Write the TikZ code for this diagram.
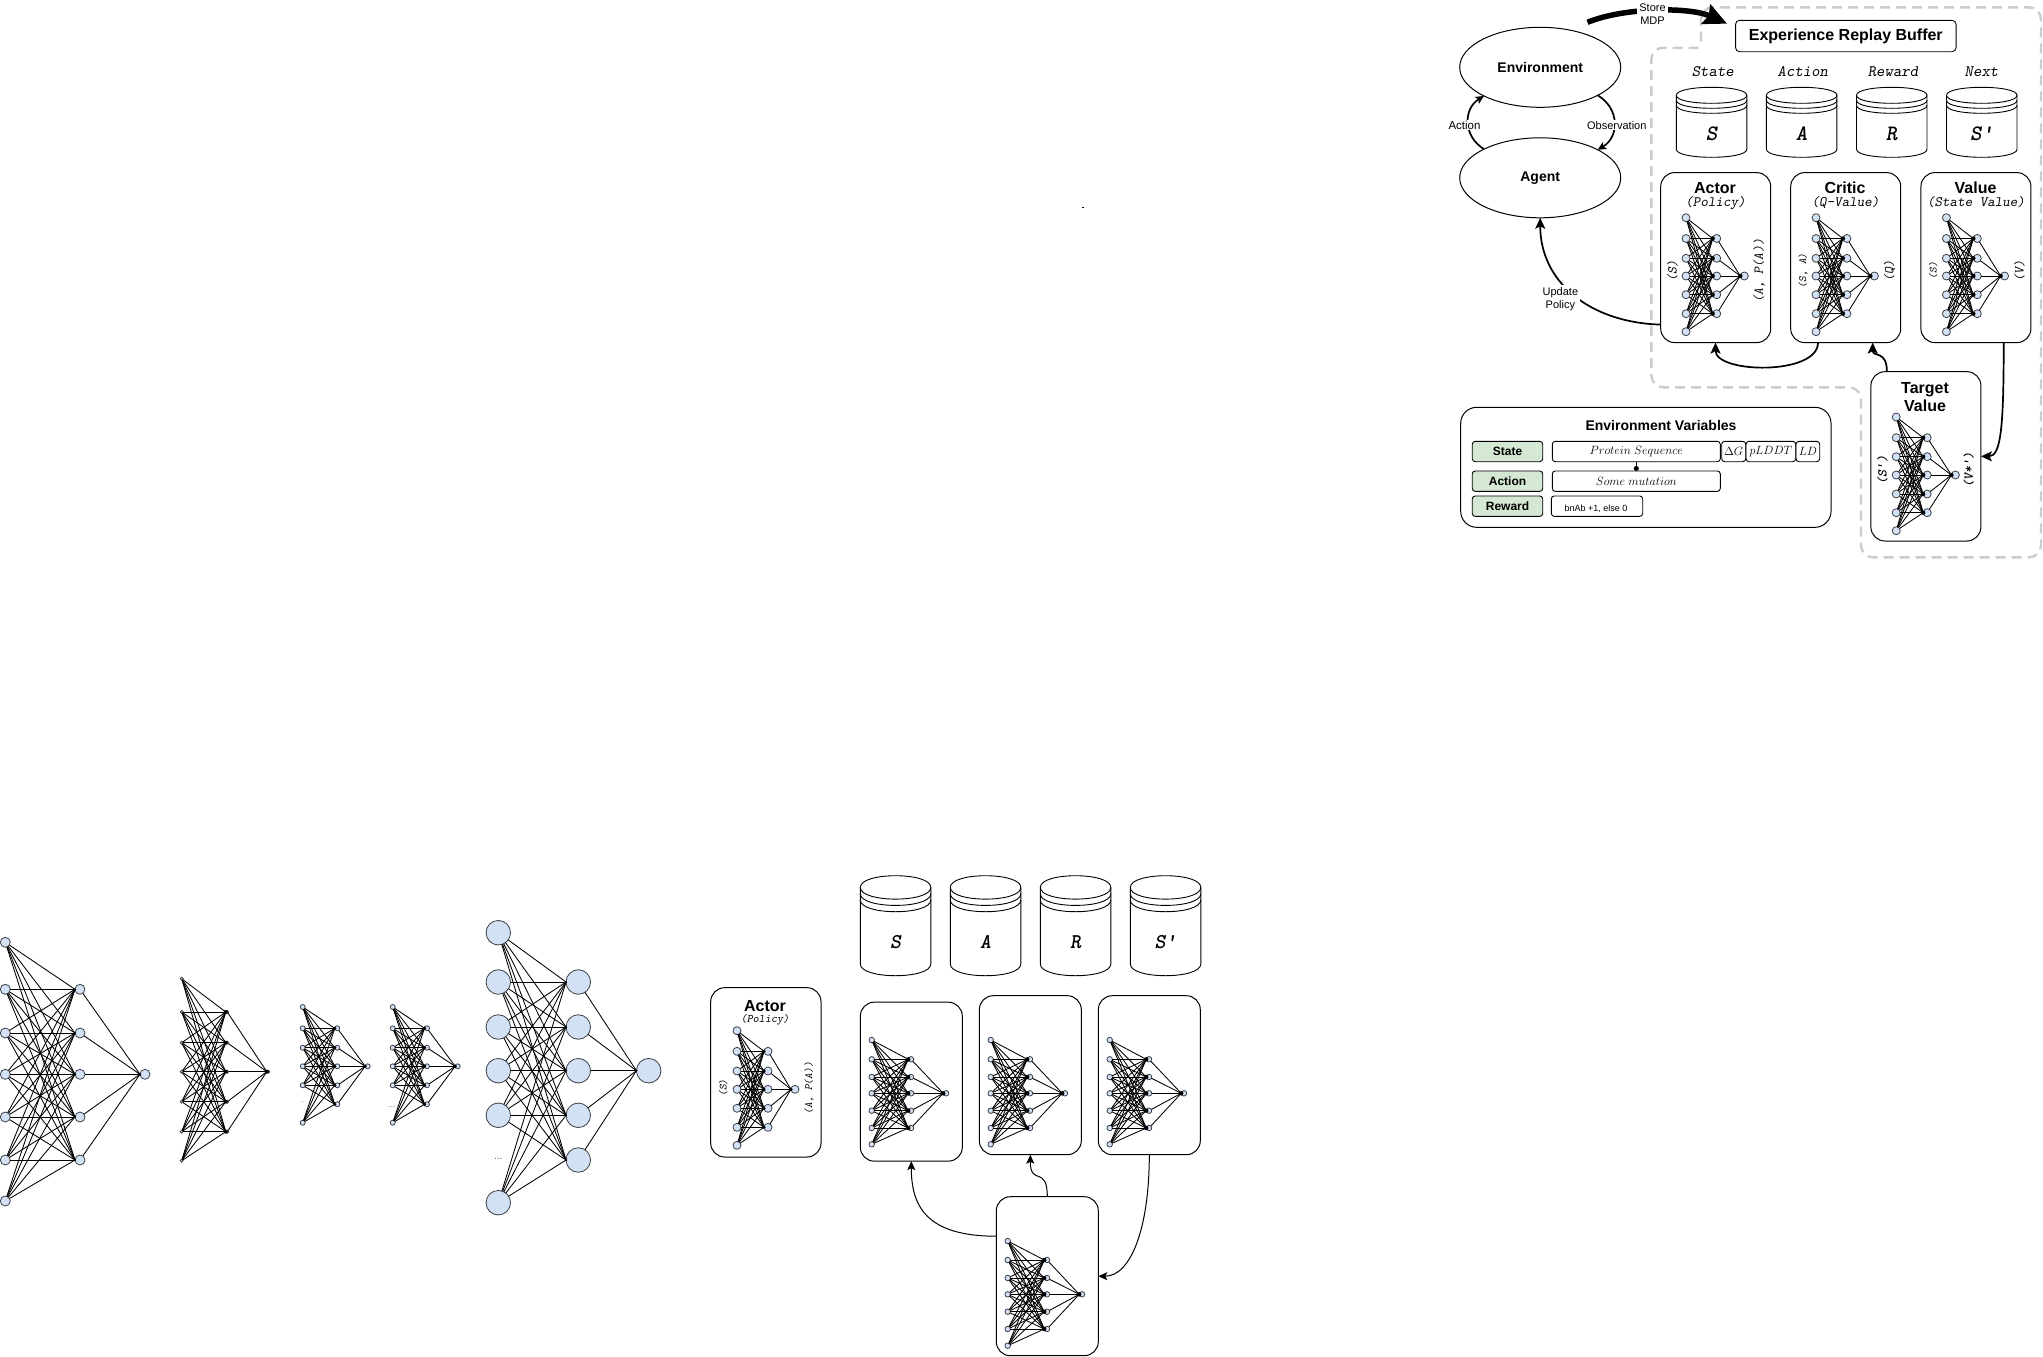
\documentclass[tikz,border=0pt]{standalone}
\usepackage{fontspec}
\setmainfont{Liberation Sans}
\newfontfamily\cour{lmmonoslant10-regular.otf}
\newfontfamily\courb{lmmonolt10-boldoblique.otf}
\usetikzlibrary{arrows.meta,shapes.geometric,calc}
\newcommand{\fsz}[1]{\fontsize{#1}{#1}\selectfont}
\definecolor{nnfill}{HTML}{D3E1F4}
\definecolor{nnedge}{HTML}{3C4048}
\definecolor{greenfill}{HTML}{D5E8D4}
\definecolor{dashgray}{HTML}{CCCCCC}
\tikzset{
  nnode/.style={circle,draw=nnedge,fill=nnfill,line width=0.8pt,inner sep=0pt,outer sep=0pt},
  nnline/.style={black,line width=0.85pt},
  rbox/.style={draw=black,fill=none,rounded corners=14pt,line width=1pt,inner sep=0pt,outer sep=0pt},
  smallbox/.style={draw=black,rounded corners=3pt,line width=0.9pt,inner sep=0pt,outer sep=0pt},
  greenbox/.style={smallbox,fill=greenfill,minimum width=70.5pt,minimum height=20.4pt,font=\fsz{12}\bfseries},
  cylline/.style={black,line width=0.9pt},
  flow/.style={black,line width=1.7pt,-{Stealth[length=11pt,width=10pt,inset=2.5pt]}},
  flowsmall/.style={black,line width=1.7pt,-{Stealth[length=8.5pt,width=8pt,inset=2pt]}},
  flowthin/.style={black,line width=1pt,-{Stealth[length=9pt,width=8pt,inset=2pt]}},
  boxtitle/.style={font=\fsz{16}\bfseries,inner sep=0pt},
  boxsub/.style={font=\fsz{14.3}\cour,inner sep=0pt},
  rotlabel/.style={rotate=90,inner sep=0pt,font=\fsz{13.5}\cour},
  rotsmall/.style={rotate=90,inner sep=0pt,font=\fsz{11}\cour},
  rotbold/.style={rotate=90,inner sep=0pt,font=\fsz{13.5}\courb},
  collabel/.style={font=\fsz{16}\cour,inner sep=0pt},
  whitelabel/.style={fill=white,inner sep=1.5pt,align=center,font=\fontsize{11}{13}\selectfont},
  ellipsebox/.style={ellipse,draw=black,line width=1pt,minimum width=161pt,minimum height=80pt,inner sep=0pt,outer sep=0pt,font=\fsz{14}\bfseries},
  dots/.style={inner sep=0pt,text=black!65}
}
% name, x input, x hidden, x output, input ys, hidden ys, y output, diameter, dot radius
\newcommand{\nnet}[9]{%
  \foreach \yy [count=\k] in {#5} {\node[nnode,minimum size=#8pt] (#1i\k) at (#2,\yy) {};}
  \foreach \yy [count=\k] in {#6} {\node[nnode,minimum size=#8pt] (#1h\k) at (#3,\yy) {};}
  \node[nnode,minimum size=#8pt] (#1o) at (#4,#7) {};
  \foreach \yy [count=\k] in {#5} {\foreach \zz [count=\m] in {#6} {\draw[nnline] (#1i\k) -- (#1h\m.west);}}
  \foreach \zz [count=\m] in {#6} {\draw[nnline] (#1h\m) -- (#1o.west);
    \fill[black] (#1h\m.west) circle[radius=#9pt];}
  \fill[black] (#1o.west) circle[radius=#9pt];
}
% name, x left, y top, height, ry, step, letter, font size
\newcommand{\cyl}[8]{%
  \begin{scope}[shift={(#2,#3)}]
    \draw[cylline] (0,#5) .. controls (0,-#5/3) and (70.5,-#5/3) .. (70.5,#5)
       -- (70.5,#4-#5) .. controls (70.5,#4+#5/3) and (0,#4+#5/3) .. (0,#4-#5) -- cycle;
    \foreach \s in {0,1,2} {\draw[cylline] (0,#5+\s*#6) .. controls (0,#5+\s*#6+4/3*#5) and (70.5,#5+\s*#6+4/3*#5) .. (70.5,#5+\s*#6);}
    \node[inner sep=0pt,font=\fsz{#8}\courb] (#1) at (35.25,#4*0.66) {#7};
  \end{scope}
}
\begin{document}
\begin{tikzpicture}[x=1pt,y=-1pt]
\useasboundingbox (0,0) rectangle (2043,1357);
\fill[white] (0,0) rectangle (2043,1357);

% dashed region
\draw[dashgray,line width=2.4pt,dash pattern=on 10pt off 6pt,rounded corners=12pt]
  (1701,41.7) -- (1701,7.3) -- (2041,7.3) -- (2041,557.3) -- (1861,557.3) -- (1861,387.3)
  -- (1651.3,387.3) -- (1651.3,47.7) -- (1701,47.7);

% free-standing networks
\nnet{na}{5.3}{80}{145}{942.3,989.3,1033,1074.3,1117,1160,1201}{989.3,1033,1074.3,1117,1160}{1074.3}{10}{1.2}
\nnet{nb}{181.7}{227.3}{268.3}{978.7,1012,1042.7,1071.7,1101.7,1131.7,1160.7}{1012,1042.7,1071.7,1101.7,1131.7}{1071.7}{3}{2}
\nnet{nc}{302.7}{337.3}{367.7}{1007,1028.3,1047.7,1066.3,1085.3,1122.7}{1028.3,1047.7,1066.3,1085.3,1104.3}{1066.3}{5}{1.7}
\nnet{nd}{392.7}{427}{457.7}{1007,1028.3,1047.7,1066.3,1085.3,1122.7}{1028.3,1047.7,1066.3,1085.3,1104.3}{1066.3}{5}{1.9}
\nnet{ne}{498.3}{578.3}{648.7}{932.7,982,1027,1070.7,1115.3,1202.7}{982,1027,1070.7,1115.3,1160}{1070.7}{24.5}{1.2}
\node[dots,font=\fsz{5}] (ncdots) at (302.7,1102) {...};
\node[dots,font=\fsz{8}] (nddots) at (392,1107.5) {...};
\node[dots,font=\fsz{10}] (nedots) at (498.3,1158.5) {...};

% lone actor
\node[rbox,minimum width=110.3pt,minimum height=169.3pt] (actorB) at (765.85,1072.35) {};
\node[boxtitle] (actorBt) at (765,1005.7) {Actor};
\node[boxsub,font=\fsz{11.5}\cour] (actorBs) at (765,1020) {(Policy)};
\nnet{nf}{737}{768}{795}{1030.7,1051.3,1071,1089.3,1108.3,1127.3,1145.3}{1051.3,1071,1089.3,1108.3,1127.3}{1089.3}{8}{1.8}
\node[rotsmall] (actorBl) at (723.3,1088) {(S)};
\node[rotsmall] (actorBr) at (809,1088) {(A, P(A))};

% lower cylinders
\cyl{cs}{860.3}{875.7}{100}{11.7}{6.3}{S}{21}
\cyl{ca}{950.3}{875.7}{100}{11.7}{6.3}{A}{21}
\cyl{cr}{1040.3}{875.7}{100}{11.7}{6.3}{R}{21}
\cyl{cn}{1130.3}{875.7}{100}{11.7}{6.3}{S'}{21}

% lower boxes
\node[rbox,minimum width=102pt,minimum height=159pt] (boxA) at (911.3,1081.65) {};
\node[rbox,minimum width=102pt,minimum height=159pt] (boxB) at (1030.3,1075.2) {};
\node[rbox,minimum width=102pt,minimum height=159pt] (boxC) at (1149.3,1075.2) {};
\node[rbox,minimum width=102pt,minimum height=159pt] (boxD) at (1047.3,1276.2) {};
\nnet{pa}{871.7}{911}{946}{1040,1059.3,1077,1093.3,1110.7,1128,1144.3}{1059.3,1077,1093.3,1110.7,1128}{1093.3}{5.5}{2.2}
\nnet{pb}{990.7}{1030}{1065}{1040,1059.3,1077,1093.3,1110.7,1128,1144.3}{1059.3,1077,1093.3,1110.7,1128}{1093.3}{5.5}{2.2}
\nnet{pc}{1109.7}{1149}{1184}{1040,1059.3,1077,1093.3,1110.7,1128,1144.3}{1059.3,1077,1093.3,1110.7,1128}{1093.3}{5.5}{2.2}
\nnet{pd}{1007.7}{1047}{1082}{1241,1260,1278,1294.3,1311.7,1329,1345.7}{1260,1278,1294.3,1311.7,1329}{1294.3}{5.5}{2.2}
\draw[flowthin] ([yshift=40pt]boxD.west) .. controls +(-70,0) and +(0,45) .. (boxA.south);
\draw[flowthin] (boxD.north) .. controls +(0,-32) and +(0,32) .. (boxB.south);
\draw[flowthin] (boxC.south) .. controls +(0,75) and +(32,0) .. (boxD.east);

% tiny mark
\fill[black] (1082.4,207) rectangle (1083.8,208.4);

% agent/environment
\node[ellipsebox,text height=10pt,text depth=0pt] (env) at (1540.2,67.3) {Environment};
\node[ellipsebox] (agent) at (1540.2,177.8) {\raisebox{-1.5pt}{Agent}};
\draw[flowsmall] (agent.153.4) .. controls +(-21,-13) and +(-21,13) .. (env.207.3);
\draw[flowsmall] (env.-26.4) .. controls +(22,13) and +(22,-13) .. (agent.26.1);
\node[whitelabel,font=\fsz{11.5},inner sep=1pt] (actlab) at (1464.5,125) {Action};
\node[whitelabel,inner sep=1pt] (obslab) at (1616.8,125.3) {Observation};

% buffer
\node[smallbox,minimum width=220.5pt,minimum height=31.4pt,font=\fsz{16}\bfseries,rounded corners=4pt] (buffer) at (1845.8,36) {Experience Replay Buffer};
\coordinate (storefrom) at (1587.5,22.3);
\draw[black,line width=5.5pt,-{Stealth[length=23pt,width=21pt,inset=3pt]}] (storefrom) .. controls (1625,7) and (1690,7) .. ([xshift=-8.5pt,yshift=-3.4pt]buffer.north west);
\node[whitelabel,inner sep=2pt] (storelab) at (1652.5,13.7) {Store\\MDP};

% column labels and upper cylinders
\node[collabel] (colS) at (1712.8,71.7) {State};
\node[collabel] (colA) at (1802.9,71.7) {Action};
\node[collabel] (colR) at (1893,71.7) {Reward};
\node[collabel] (colN) at (1981.5,71.7) {Next};
\cyl{us}{1676.3}{87.3}{70}{8}{5}{S}{22}
\cyl{ua}{1766.4}{87.3}{70}{8}{5}{A}{22}
\cyl{ur}{1856.5}{87.3}{70}{8}{5}{R}{22}
\cyl{un}{1946.5}{87.3}{70}{8}{5}{S'}{22}

% upper boxes
\node[rbox,minimum width=110pt,minimum height=170pt] (actor) at (1715.7,257.6) {};
\node[rbox,minimum width=110pt,minimum height=170pt] (critic) at (1845.7,257.6) {};
\node[rbox,minimum width=110pt,minimum height=170pt] (value) at (1975.9,257.6) {};
\node[rbox,minimum width=110pt,minimum height=169.3pt] (target) at (1925.9,456.35) {};
\node[boxtitle] (actort) at (1715,188.3) {Actor};
\node[boxsub] (actors) at (1715.5,203.3) {(Policy)};
\node[boxtitle] (critict) at (1845,187.3) {Critic};
\node[boxsub] (critics) at (1845.5,202.3) {(Q-Value)};
\node[boxtitle] (valuet) at (1975.5,187.3) {Value};
\node[boxsub] (values) at (1976,202.3) {(State Value)};
\node[boxtitle,font=\fontsize{16}{18.6}\selectfont\bfseries,align=center] (targett) at (1925,397) {Target\\Value};
\nnet{qa}{1686}{1716.7}{1744.3}{217.7,238.5,258.3,276,294.7,313.7,331.7}{238.5,258.3,276,294.7,313.7}{276}{8}{2.2}
\nnet{qb}{1816}{1846.9}{1874.4}{217.7,238.5,258.3,276,294.7,313.7,331.7}{238.5,258.3,276,294.7,313.7}{276}{8}{2.2}
\nnet{qc}{1946.4}{1977.3}{2004.6}{217.7,238.5,258.3,276,294.7,313.7,331.7}{238.5,258.3,276,294.7,313.7}{276}{8}{2.2}
\nnet{qd}{1896.2}{1927.2}{1955.4}{417,437.7,456.7,475,494,512.7,530.7}{437.7,456.7,475,494,512.7}{475}{8}{2.2}
\node[rotlabel] (la) at (1672.5,270.7) {(S)};
\node[rotlabel] (ra) at (1759,270.7) {(A, P(A))};
\node[rotsmall] (lb) at (1803,270.7) {(S, A)};
\node[rotlabel] (rb) at (1889.5,270.7) {(Q)};
\node[rotsmall] (lc) at (1933.3,270.7) {(S)};
\node[rotlabel] (rc) at (2019.5,270.7) {(V)};
\node[rotbold] (ld) at (1882.4,470) {(S')};
\node[rotbold] (rd) at (1968.6,470) {(V*')};

% upper connectors
\draw[flow] ([yshift=-67pt]actor.west) .. controls +(-70,-2) and +(0,65) .. (agent.south);
\node[whitelabel,inner sep=2pt] (updlab) at (1560.4,299) {Update\\Policy};
\draw[flow] ([xshift=-27.7pt]critic.south) .. controls +(0,33) and +(0,31) .. ([xshift=-0.2pt]actor.south);
\draw[flow] ([xshift=-39pt]target.north) .. controls +(0,-22) and +(0,15) .. ([xshift=27pt]critic.south);
\draw[flow] ([xshift=27.8pt]value.south) .. controls +(0,85) and +(20,0) .. (target.east);

% environment variables
\node[rbox,minimum width=370.3pt,minimum height=120pt,rounded corners=16pt] (envbox) at (1645.85,467.3) {};
\node[inner sep=0pt,font=\fsz{14}\bfseries] (envt) at (1661,425) {Environment Variables};
\node[greenbox] (gstate) at (1507.5,451.5) {State};
\node[greenbox] (gaction) at (1507.5,481.15) {Action};
\node[greenbox] (greward) at (1507.5,506.15) {Reward};
\node[smallbox,minimum width=168pt,minimum height=20.4pt,font=\fsz{12}] (prot) at (1636.3,451.5) {$Protein\ Sequence$};
\node[smallbox,minimum width=24pt,minimum height=20.4pt,font=\fsz{12}] (dg) at (1733.7,451.5) {$\Delta G$};
\node[smallbox,minimum width=49.7pt,minimum height=20.4pt,font=\fsz{12}] (pl) at (1770.85,451.5) {$pLDDT$};
\node[smallbox,minimum width=23.7pt,minimum height=20.4pt,font=\fsz{12}] (ldd) at (1807.85,451.5) {$LD$};
\node[smallbox,minimum width=168pt,minimum height=20.4pt,font=\fsz{12}] (mut) at (1636.3,481.15) {$Some\ mutation$};
\node[smallbox,minimum width=91.4pt,minimum height=20.4pt] (rew) at (1597,506.15) {};
\node[inner sep=0pt,font=\fsz{9}] (rewt) at (1596,508.5) {bnAb +1, else 0};
\draw[black,line width=0.9pt,-{Circle[length=5pt,width=5pt]}] (prot.south) -- (mut.north);
\end{tikzpicture}
\end{document}
